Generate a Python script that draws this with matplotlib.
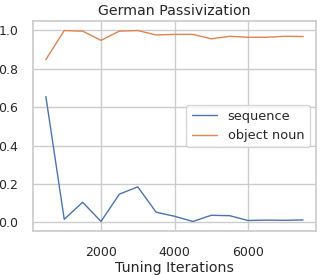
import matplotlib
matplotlib.use("Agg")
import matplotlib.pyplot as plt
import seaborn as sns

iterations = [500, 1000, 1500, 2000, 2500, 3000, 3500, 4000, 4500, 5000, 5500, 6000, 6500, 7000, 7500]
sequence = [0.655, 0.016, 0.105, 0.005, 0.147, 0.185, 0.053, 0.032, 0.005, 0.037, 0.035, 0.010, 0.012, 0.011, 0.013]
object_noun = [0.847, 0.998, 0.995, 0.947, 0.995, 0.998, 0.975, 0.978, 0.978, 0.955, 0.968, 0.963, 0.963, 0.968, 0.967]

sns.set_theme(style="whitegrid")
plt.rcParams['font.family'] = ['DejaVu Sans']

fig = plt.figure(figsize=(3.22, 2.75), dpi=100)
ax = fig.add_axes([33/322, 1-231/275, (316-33)/322, (231-21)/275])

pal = sns.color_palette("deep")
ax.plot(iterations, sequence, color=pal[0], lw=1.0, label="sequence")
ax.plot(iterations, object_noun, color=pal[1], lw=1.0, label="object noun")

ax.set_title("German Passivization", fontsize=10.2, pad=4)
ax.set_xlabel("Tuning Iterations", fontsize=10.2, labelpad=1)
ax.set_ylabel("Accuracy", fontsize=10.2, labelpad=3)
ax.set_xticks([2000, 4000, 6000])
ax.set_yticks([0.0, 0.2, 0.4, 0.6, 0.8, 1.0])
ax.tick_params(axis="y", labelsize=9, pad=4.5)
ax.tick_params(axis="x", labelsize=9, pad=5)
ax.legend(loc="center right", fontsize=9.3)

fig.savefig("out.png", dpi=100)
